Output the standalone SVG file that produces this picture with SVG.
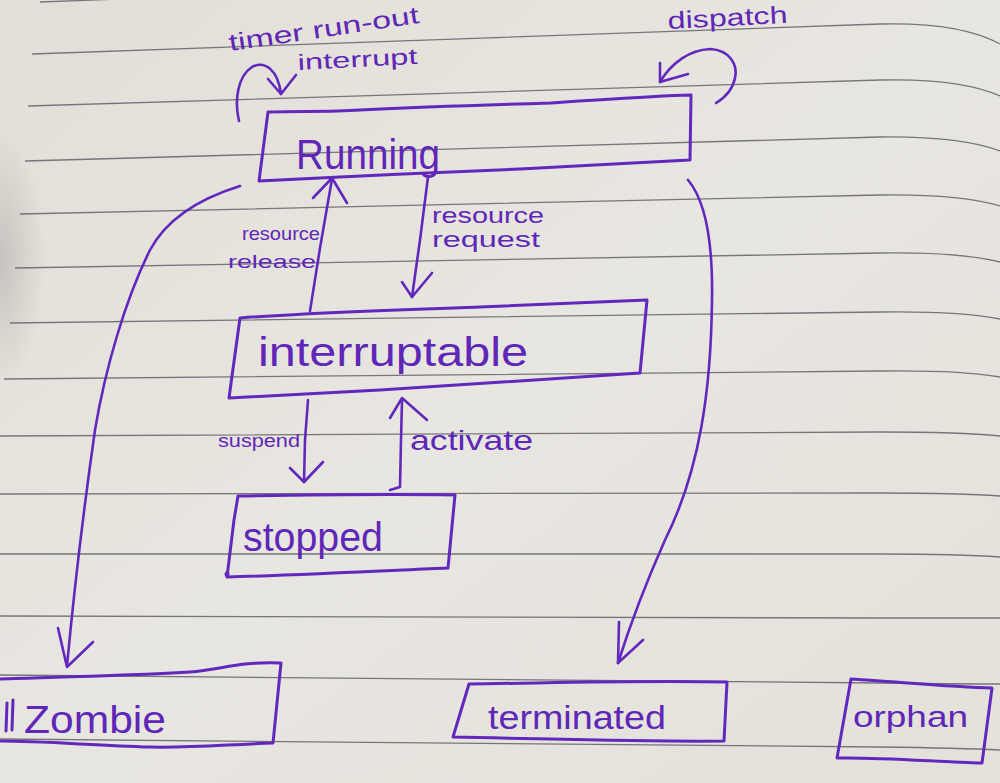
<svg xmlns="http://www.w3.org/2000/svg" width="1000" height="783" viewBox="0 0 1000 783">
<defs>
<style>
.rule{fill:none;stroke:#77757a;stroke-width:1.3}
.ink{fill:none;stroke:#6228bd;stroke-width:3;stroke-linecap:round;stroke-linejoin:round}
.arw{fill:none;stroke:#6228bd;stroke-width:2.6;stroke-linecap:round;stroke-linejoin:round}
.t{font-family:"Liberation Sans",Arial,sans-serif;fill:#5f26b8}
</style>
<linearGradient id="paper" x1="0" y1="0" x2="1" y2="1">
<stop offset="0" stop-color="#e2dfd8"/>
<stop offset="0.5" stop-color="#e8e6e0"/>
<stop offset="1" stop-color="#e3e1da"/>
</linearGradient>
<radialGradient id="shade" cx="0.5" cy="0.5" r="0.5">
<stop offset="0" stop-color="#8e8a88" stop-opacity="0.35"/>
<stop offset="1" stop-color="#8e8a88" stop-opacity="0"/>
</radialGradient>
</defs>
<rect width="1000" height="783" fill="url(#paper)"/>
<ellipse cx="0" cy="260" rx="45" ry="130" fill="url(#shade)"/>
<g id="ruling">
<path class="rule" d="M40,2 L200,-4"/>
<path class="rule" d="M32,54 L880,24 Q960,22 1000,44"/>
<path class="rule" d="M28,106 L880,80 Q960,78 1000,96"/>
<path class="rule" d="M25,161 L880,137 Q960,136 1000,151"/>
<path class="rule" d="M20,214 L880,195 Q960,194 1000,206"/>
<path class="rule" d="M15,268 L880,253 Q960,252 1000,262"/>
<path class="rule" d="M10,323 L880,312 Q960,311 1000,319"/>
<path class="rule" d="M4,379 L880,371 Q960,370 1000,377"/>
<path class="rule" d="M0,436 L880,432 Q960,432 1000,436"/>
<path class="rule" d="M0,494 L880,493 Q960,493 1000,496"/>
<path class="rule" d="M0,554 L880,554 Q960,554 1000,557"/>
<path class="rule" d="M0,616 L880,618 Q960,618 1000,618"/>
<path class="rule" d="M0,675 L880,683 Q960,684 1000,684"/>
<path class="rule" d="M0,739 L880,747 Q960,748 1000,750"/>
</g>
<g id="connectors">
<g id="timer-loop">
<path class="arw" d="M239,121 C234,100 238,76 252,67 C265,60 278,70 281,94"/>
<path class="arw" d="M268,79 L281,94 L296,75"/>
</g>
<g id="dispatch-loop">
<path class="arw" d="M660,82 C672,62 690,50 710,49 C730,50 738,65 735,78 C733,88 726,97 716,103"/>
<path class="arw" d="M660,63 L660,82 L688,74"/>
</g>
<g id="resource-release">
<path class="arw" d="M310,311 L320,248 L332,179"/>
<path class="arw" d="M313,198 L332,178 L347,203"/>
</g>
<g id="resource-request">
<path class="arw" d="M428,177 L420,240 L412,297"/>
<path class="arw" d="M402,282 L412,297 L432,273"/>
</g>
<g id="suspend">
<path class="arw" d="M308,400 L305,440 L304,482"/>
<path class="arw" d="M290,468 L304,482 L323,462"/>
</g>
<g id="activate">
<path class="arw" d="M390,490 L400,487 L401,440 L402,400"/>
<path class="arw" d="M390,418 L402,398 L427,420"/>
</g>
<g id="to-zombie">
<path class="arw" d="M240,186 C195,200 165,222 150,250 C125,300 105,370 95,430 C85,500 75,580 67,666"/>
<path class="arw" d="M58,628 L67,667 L93,642"/>
</g>
<g id="to-terminated">
<path class="arw" d="M688,180 C705,200 713,240 712,300 C711,390 700,470 665,540 C645,585 630,625 618,663"/>
<path class="arw" d="M619,622 L618,663 L643,640"/>
</g>
<g id="labels">
<text class="t" x="230" y="51" font-size="24" textLength="192" lengthAdjust="spacingAndGlyphs" transform="rotate(-8.4 230 51)">timer run-out</text>
<text class="t" x="298" y="70" font-size="22" textLength="120" lengthAdjust="spacingAndGlyphs" transform="rotate(-3 298 70)">interrupt</text>
<text class="t" x="668" y="29" font-size="24" textLength="120" lengthAdjust="spacingAndGlyphs" transform="rotate(-3 668 29)">dispatch</text>
<text class="t" x="242" y="240" font-size="19" textLength="78" lengthAdjust="spacingAndGlyphs">resource</text>
<text class="t" x="228" y="268" font-size="19" textLength="88" lengthAdjust="spacingAndGlyphs">release</text>
<text class="t" x="432" y="223" font-size="22" textLength="112" lengthAdjust="spacingAndGlyphs">resource</text>
<text class="t" x="432" y="247" font-size="22" textLength="108" lengthAdjust="spacingAndGlyphs">request</text>
<text class="t" x="218" y="447" font-size="18" textLength="82" lengthAdjust="spacingAndGlyphs">suspend</text>
<text class="t" x="410" y="450" font-size="28" textLength="123" lengthAdjust="spacingAndGlyphs">activate</text>
</g>
</g>
<g id="running">
<path class="ink" d="M268,112 C300,111 330,112 360,110 C420,107 480,105 551,103 C600,100 650,96 691,95 L690,160 C640,163 590,165 520,169 C450,172 400,174 340,177 C300,179 275,180 259,181 Z"/>
<text class="t" x="296" y="169" font-size="42" textLength="144" lengthAdjust="spacingAndGlyphs">Running</text>
</g>
<g id="interruptable">
<path class="ink" d="M240,318 C320,312 400,310 480,307 C540,304 600,302 647,300 L640,373 C560,378 470,384 380,390 C320,393 270,396 229,398 Z"/>
<text class="t" x="258" y="366" font-size="40" textLength="270" lengthAdjust="spacingAndGlyphs">interruptable</text>
</g>
<g id="stopped">
<path class="ink" d="M238,496 C300,495 380,494 455,495 L448,568 C380,571 300,575 227,577 L234,520 Z"/>
<circle cx="227" cy="574" r="2.5" fill="#6228bd"/>
<text class="t" x="243" y="551" font-size="40" textLength="140" lengthAdjust="spacingAndGlyphs">stopped</text>
</g>
<g id="zombie">
<path class="ink" d="M0,679 C60,677 120,676 190,672 C220,670 240,661 281,663 L273,743 C220,745 190,748 150,747 C90,745 40,741 0,741"/>
<path class="ink" d="M7,703 L6,731 M13,700 L12,730"/>
<text class="t" x="24" y="733" font-size="38" textLength="142" lengthAdjust="spacingAndGlyphs">Zombie</text>
</g>
<g id="terminated">
<path class="ink" d="M469,684 C550,683 640,680 727,682 L724,741 C650,742 560,739 453,737 Z"/>
<text class="t" x="488" y="729" font-size="34" textLength="178" lengthAdjust="spacingAndGlyphs">terminated</text>
</g>
<g id="orphan">
<path class="ink" d="M851,679 C900,682 950,687 992,688 L982,763 C940,762 880,757 837,758 Z"/>
<text class="t" x="853" y="727" font-size="30" textLength="115" lengthAdjust="spacingAndGlyphs">orphan</text>
</g>
</svg>
